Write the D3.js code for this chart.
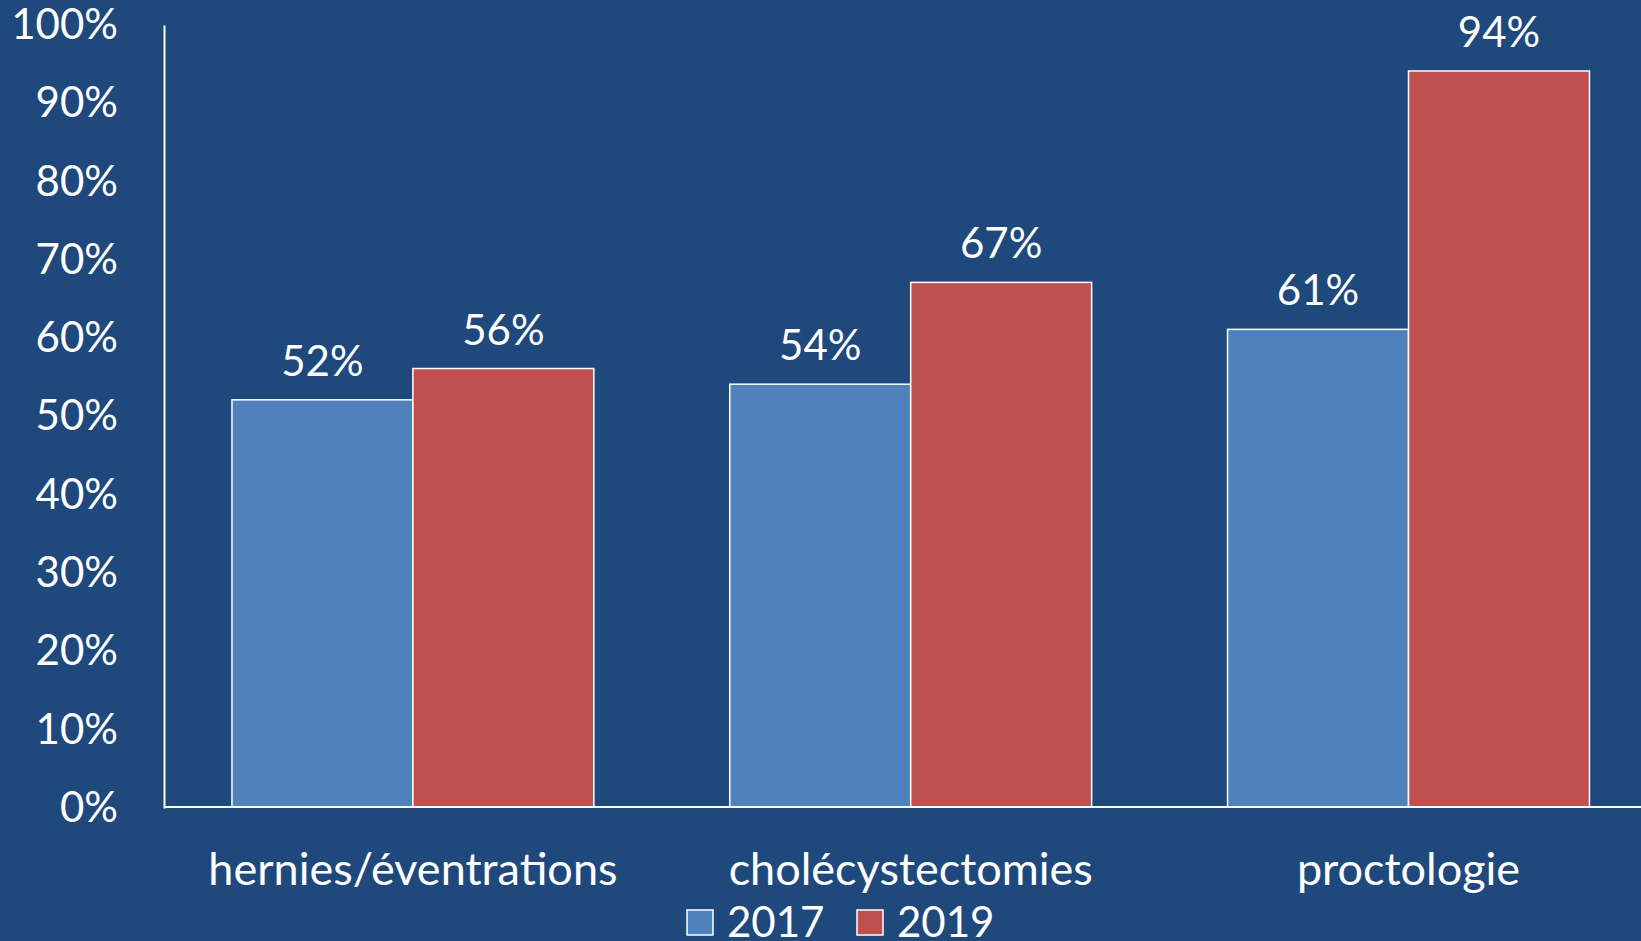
<!DOCTYPE html>
<html>
<head>
<meta charset="utf-8">
<script src="https://cdn.jsdelivr.net/npm/d3@7"></script>
<style>
  html, body { margin: 0; padding: 0; background: #1F497D; }
  svg text { font-family: Lato, 'Open Sans', sans-serif; fill: #fff; }
</style>
</head>
<body>
<div id="chart"></div>
<script>
const categories = ['hernies/éventrations', 'cholécystectomies', 'proctologie']
const series = ['2017', '2019']
const values2017 = [52, 54, 61]
const values2019 = [56, 67, 94]
const yTicks = [0, 10, 20, 30, 40, 50, 60, 70, 80, 90, 100]

const colors = { '2017': '#4F81BD', '2019': '#C0504D' }
const width = 1641, height = 941
const plotLeft = 164, plotTop = 24, plotBottom = 807

const svg = d3.select('#chart')
    .append('svg')
    .attr('width', width)
    .attr('height', height)

svg.append('rect')
    .attr('width', width)
    .attr('height', height)
    .attr('fill', '#1F497D')

const step = 497.8
const x = d3.scaleBand()
    .domain(categories)
    .range([plotLeft, plotLeft + step * categories.length])
    .paddingInner(0.273)
    .paddingOuter(0.1365)

const xs = d3.scaleBand()
    .domain(series)
    .range([0, x.bandwidth()])

const y = d3.scaleLinear()
    .domain([0, 100])
    .range([plotBottom, plotTop])

const data = categories.map((c, i) => ({
  category: c,
  values: [
    { key: '2017', value: values2017[i] },
    { key: '2019', value: values2019[i] }
  ]
}))

const groups = svg.append('g')
    .selectAll('g')
    .data(data)
    .enter().append('g')
    .attr('transform', d => 'translate(' + x(d.category) + ',0)')

groups.selectAll('rect')
    .data(d => d.values)
    .enter().append('rect')
    .attr('x', d => xs(d.key))
    .attr('y', d => y(d.value))
    .attr('width', xs.bandwidth())
    .attr('height', d => y(0) - y(d.value))
    .attr('fill', d => colors[d.key])
    .attr('stroke', '#fff')
    .attr('stroke-width', 1.5)

groups.selectAll('text.value')
    .data(d => d.values)
    .enter().append('text')
    .attr('class', 'value')
    .attr('x', d => xs(d.key) + xs.bandwidth() / 2)
    .attr('y', d => y(d.value) - 24)
    .attr('text-anchor', 'middle')
    .attr('font-size', 42)
    .text(d => d.value + '%')

// y axis
const yAxis = d3.axisLeft(y)
    .tickValues(yTicks)
    .tickSize(0)
    .tickPadding(46)
    .tickFormat(d => d + '%')

const gy = svg.append('g')
    .attr('transform', 'translate(' + plotLeft + ',1)')
    .call(yAxis)
gy.select('.domain').attr('stroke', '#fff').attr('stroke-width', 2)
gy.selectAll('text')
    .attr('fill', '#fff')
    .attr('font-size', 42)
    .style('font-family', 'Lato, sans-serif')

// x axis
svg.append('line')
    .attr('x1', plotLeft)
    .attr('x2', width)
    .attr('y1', plotBottom)
    .attr('y2', plotBottom)
    .attr('stroke', '#fff')
    .attr('stroke-width', 2)

svg.append('g')
    .selectAll('text')
    .data(categories)
    .enter().append('text')
    .attr('x', d => x(d) + x.bandwidth() / 2)
    .attr('y', 869)
    .attr('dy', '0.35em')
    .attr('text-anchor', 'middle')
    .attr('font-size', 45)
    .text(d => d)

// legend
const legend = svg.append('g')
    .attr('transform', 'translate(687,910)')
const legendX = [0, 170]
const items = legend.selectAll('g')
    .data(series)
    .enter().append('g')
    .attr('transform', (d, i) => 'translate(' + legendX[i] + ',0)')
items.append('rect')
    .attr('width', 26)
    .attr('height', 25)
    .attr('fill', d => colors[d])
    .attr('stroke', '#fff')
    .attr('stroke-width', 1.5)
items.append('text')
    .attr('x', 40)
    .attr('y', 12.5)
    .attr('dy', '0.35em')
    .attr('font-size', 42)
    .text(d => d)
</script>
</body>
</html>
